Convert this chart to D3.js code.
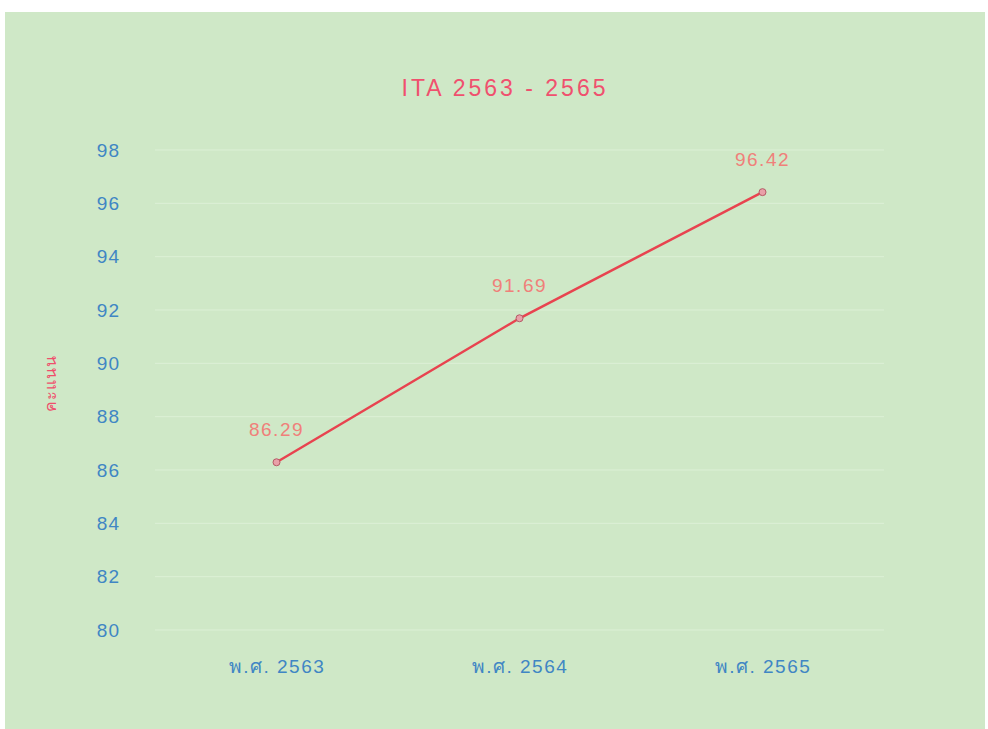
<!DOCTYPE html>
<html>
<head>
<meta charset="utf-8">
<script src="https://cdn.jsdelivr.net/npm/d3@7"></script>
<style>
  body { margin: 0; background: #fff; }
  svg { display: block; font-family: "Liberation Sans", Arial, sans-serif; }
</style>
</head>
<body>
<div id="chart"></div>
<script>
// ข้อมูล
const years = ["พ.ศ. 2563", "พ.ศ. 2564", "พ.ศ. 2565"];
const scores = [86.29, 91.69, 96.42];
const yTicks = [80, 82, 84, 86, 88, 90, 92, 94, 96, 98];

const width = 988;
const height = 729;
const margin = { top: 150, right: 104, bottom: 99, left: 155 };

const svg = d3.select("#chart")
    .append("svg")
    .attr("width", width)
    .attr("height", height);

// พื้นหลังสีเขียว
svg.append("rect")
    .attr("x", 5)
    .attr("y", 12)
    .attr("width", width - 8)
    .attr("height", height - 12)
    .attr("fill", "#cfe8c7");

const x = d3.scalePoint()
    .domain(years)
    .range([margin.left, width - margin.right])
    .padding(0.5);

const y = d3.scaleLinear()
    .domain([80, 98])
    .range([height - margin.bottom, margin.top]);

// เส้นกริด
svg.append("g")
    .selectAll("line")
    .data(yTicks)
    .join("line")
    .attr("x1", margin.left)
    .attr("x2", width - margin.right)
    .attr("y1", d => y(d))
    .attr("y2", d => y(d))
    .attr("stroke", "#dcf0d6")
    .attr("stroke-width", 1);

// แกน Y
const yAxis = svg.append("g")
    .attr("transform", "translate(120,0)")
    .call(d3.axisLeft(y).tickValues(yTicks).tickSize(0).tickPadding(0));
yAxis.select(".domain").remove();
yAxis.selectAll("text")
    .attr("fill", "#3f86c4")
    .attr("font-size", 19)
    .attr("letter-spacing", 1);

// แกน X
const xAxis = svg.append("g")
    .attr("transform", "translate(0," + (height - margin.bottom) + ")")
    .call(d3.axisBottom(x).tickSize(0).tickPadding(30));
xAxis.select(".domain").remove();
xAxis.selectAll("text")
    .attr("fill", "#3f86c4")
    .attr("font-size", 19)
    .attr("letter-spacing", 1.5);

// ชื่อกราฟ
svg.append("text")
    .attr("x", 505)
    .attr("y", 96)
    .attr("text-anchor", "middle")
    .attr("fill", "#f0506e")
    .attr("font-size", 23)
    .attr("letter-spacing", 3)
    .text("ITA 2563 - 2565");

// ชื่อแกน Y
svg.append("text")
    .attr("transform", "translate(56,383) rotate(-90)")
    .attr("text-anchor", "middle")
    .attr("fill", "#ef4e6c")
    .attr("font-size", 16)
    .attr("letter-spacing", 1)
    .attr("font-family", "Noto Sans, sans-serif")
    .text("คะแนน");

// เส้นกราฟ
const line = d3.line()
    .x((d, i) => x(years[i]))
    .y(d => y(d));

svg.append("path")
    .datum(scores)
    .attr("fill", "none")
    .attr("stroke", "#e8434f")
    .attr("stroke-width", 2.5)
    .attr("d", line);

svg.selectAll("circle.pt")
    .data(scores)
    .join("circle")
    .attr("class", "pt")
    .attr("cx", (d, i) => x(years[i]))
    .attr("cy", d => y(d))
    .attr("r", 3.5)
    .attr("fill", "#e9a0a8")
    .attr("stroke", "#b55a66")
    .attr("stroke-width", 1);

// ป้ายค่า
svg.selectAll("text.val")
    .data(scores)
    .join("text")
    .attr("class", "val")
    .attr("x", (d, i) => x(years[i]))
    .attr("y", d => y(d) - 26)
    .attr("text-anchor", "middle")
    .attr("fill", "#f0807a")
    .attr("font-size", 19)
    .attr("letter-spacing", 1.5)
    .text(d => d.toFixed(2));
</script>
</body>
</html>
